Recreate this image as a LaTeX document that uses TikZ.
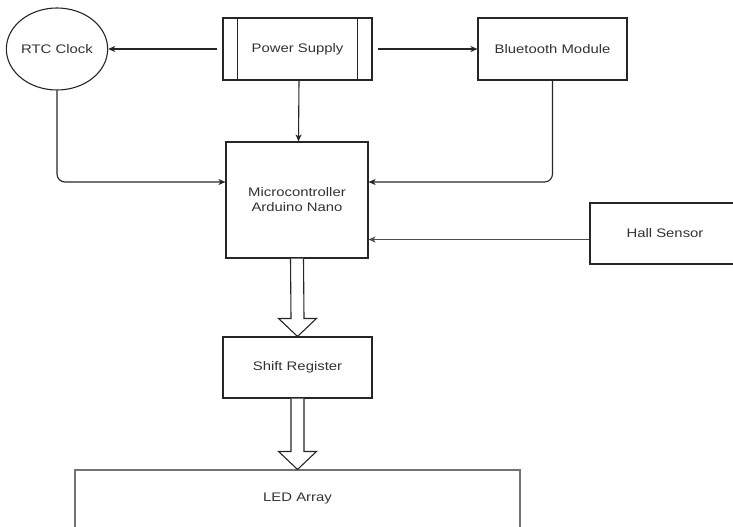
\documentclass[tikz,border=0pt]{standalone}
\usepackage{fontspec}
\setmainfont{Liberation Sans}[FakeStretch=1.2]
\usetikzlibrary{shapes.geometric,arrows.meta,calc}

\tikzset{
  block/.style={draw=black!85, line width=1.1pt, fill=white, rectangle,
    inner sep=0pt, align=center, text=black!80,
    font=\fontsize{12.4}{15}\selectfont},
  oval/.style={block, ellipse},
  link/.style={draw=black!85, line width=1.1pt,
    -{Stealth[length=7pt,width=6pt,inset=2pt]}},
  bus/.style={draw=black!85, line width=1.1pt, fill=white, line join=miter},
}

\begin{document}
\begin{tikzpicture}[x=1pt, y=-1pt]
  \useasboundingbox (0,0) rectangle (733,527);
  \clip (0,0) rectangle (733,527);

  % blocks
  \node[oval, minimum width=100pt, minimum height=82pt] (rtc) at (57,49) {RTC Clock};
  \node[block, minimum width=149pt, minimum height=62pt] (ps) at (297.5,49) {Power Supply};
  \draw[black!85, line width=1.1pt] ([xshift=15pt]ps.north west) -- ([xshift=15pt]ps.south west)
        ([xshift=-15pt]ps.north east) -- ([xshift=-15pt]ps.south east);
  \node[block, minimum width=149pt, minimum height=62pt] (bt) at (552.5,49) {Bluetooth Module};
  \node[block, minimum width=142pt, minimum height=116pt] (mcu) at (297,200)
       {Microcontroller\\Arduino Nano};
  \node[block, minimum width=150pt, minimum height=61pt] (hall) at (665,233.5) {Hall Sensor};
  \node[block, minimum width=149pt, minimum height=61pt] (sr) at (297.5,367.5) {Shift Register};
  \node[block, draw=black!55, minimum width=445pt, minimum height=74pt] (led) at (297.5,507)
       {\raisebox{20pt}{LED Array}};

  % signal connectors
  \coordinate (mcuL) at ([yshift=18pt]mcu.west);
  \coordinate (mcuR) at ([yshift=18pt]mcu.east);
  \coordinate (hallout) at ([yshift=-6pt]hall.west);
  \draw[link, shorten <=5pt] (ps.west) -- (rtc.east);
  \draw[link, shorten <=5pt] (ps.east) -- (bt.west);
  \draw[link] ([xshift=1.5pt]ps.south) -- ([xshift=1.5pt]mcu.north);
  \draw[link, rounded corners=8pt] (rtc.south) |- (mcuL);
  \draw[link, rounded corners=8pt] (bt.south) |- (mcuR);
  \draw[link, draw=black!70] (hallout) -- (hallout -| mcu.east);

  % hollow bus arrows
  \path[bus] ($(mcu.south)+(-6.5,0)$) -- ($(sr.north)+(-6.5,-18)$) -- ($(sr.north)+(-19,-18)$)
    -- (sr.north) -- ($(sr.north)+(19,-18)$) -- ($(sr.north)+(6.5,-18)$) -- ($(mcu.south)+(6.5,0)$);
  \path[bus] ($(sr.south)+(-6.5,0)$) -- ($(led.north)+(-6.5,-18)$) -- ($(led.north)+(-19,-18)$)
    -- (led.north) -- ($(led.north)+(19,-18)$) -- ($(led.north)+(6.5,-18)$) -- ($(sr.south)+(6.5,0)$);
\end{tikzpicture}
\end{document}
